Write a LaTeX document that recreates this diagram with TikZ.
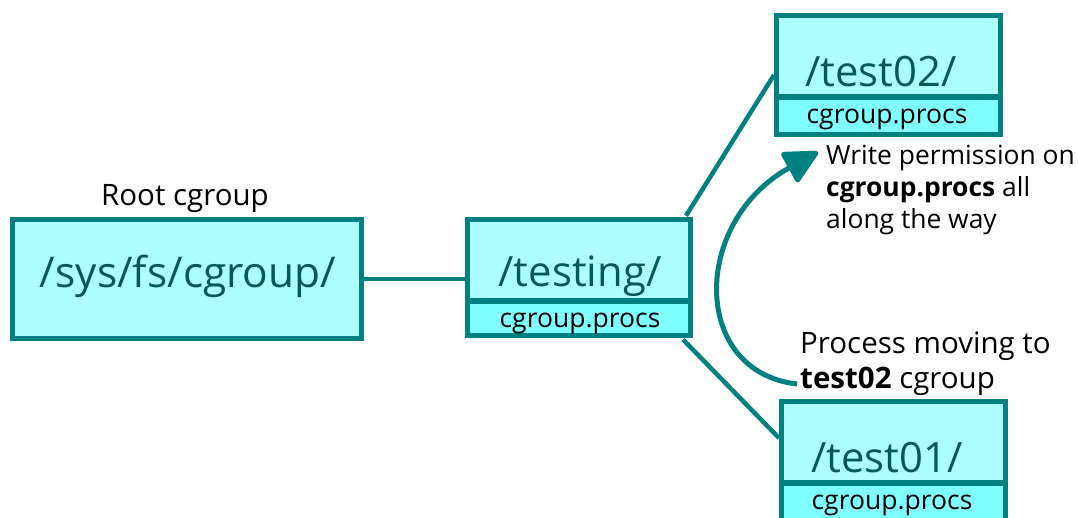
\documentclass[tikz,border=0pt]{standalone}
\usepackage{fontspec}
\setmainfont{Open Sans}
\usetikzlibrary{arrows.meta,calc}
\definecolor{teal}{HTML}{008080}
\definecolor{boxfill}{HTML}{AEFFFF}
\definecolor{procfill}{HTML}{7FFFFF}
\definecolor{titletext}{HTML}{005A5A}
\tikzset{
  cgbox/.style={draw=teal, line width=5pt, fill=boxfill, inner sep=0pt},
  procbox/.style={draw=teal, line width=5pt, fill=procfill, inner sep=0pt},
  bigname/.style={text=titletext, font=\fontsize{41.8}{46}\selectfont, inner sep=0pt},
  procname/.style={text=black, font=\fontsize{26.5}{30}\selectfont, inner sep=0pt},
  note/.style={text=black, align=left, inner sep=0pt},
  link/.style={draw=teal, line width=4.5pt},
  movearrow/.style={draw=teal, line width=5pt, -{Triangle[length=37pt,width=36pt,line join=round]}},
}
\begin{document}
\begin{tikzpicture}[x=1pt,y=-1pt]
\useasboundingbox (0,0) rectangle (1078,517);

% root cgroup
\node[cgbox, minimum width=349pt, minimum height=119pt] (root) at (187,279) {};
\node[bigname, font=\fontsize{42.4}{47}\selectfont] (rootname) at (188,276) {/sys/fs/cgroup/};
\node[note, font=\fontsize{29.5}{33}\selectfont] (rootlabel) at (185,199) {Root cgroup};

% /testing/
\node[cgbox, minimum width=223pt, minimum height=81.5pt] (testing) at (579,260) {};
\node[procbox, minimum width=223pt, minimum height=34pt] (testingp) at (579,318) {};
\node[bigname] (testingname) at (580,276) {/testing/};
\node[procname] (testingproc) at (580,323) {cgroup.procs};

% /test02/
\node[cgbox, minimum width=224pt, minimum height=81.5pt] (test02) at (888.5,56) {};
\node[procbox, minimum width=224pt, minimum height=37.5pt] (test02p) at (888.5,116) {};
\node[bigname] (test02name) at (881,72) {/test02/};
\node[procname] (test02proc) at (887,119) {cgroup.procs};

% /test01/
\node[cgbox, minimum width=224pt, minimum height=81.5pt] (test01) at (893.5,442) {};
\node[procbox, minimum width=224pt, minimum height=37.5pt] (test01p) at (893.5,502) {};
\node[bigname] (test01name) at (887,458) {/test01/};
\node[procname] (test01proc) at (892,505) {cgroup.procs};

% hierarchy links
\draw[link] (root.east) -- (testing.west |- root.east);
\draw[link] ($(testing.north east)+(-7,-1)$) -- ($(test02.west)+(0,19)$);
\draw[link] ($(testingp.south east)+(-10,2)$) -- ($(test01.west)+(0,-4)$);

% notes
\node[note, anchor=west, font=\fontsize{26.4}{32}\selectfont] (writenote) at (826,190)
  {Write permission on\\\textbf{cgroup.procs} all\\along the way};
\node[note, anchor=west, font=\fontsize{29.5}{35}\selectfont] (procnote) at (800,364)
  {Process moving to\\\textbf{test02} cgroup};

% movement arrow
\coordinate (arrstart) at (797,384);
\coordinate (arrend) at (818,152);
\draw[movearrow] (arrstart) .. controls (691,372) and (691,222) .. (arrend);
\end{tikzpicture}
\end{document}
